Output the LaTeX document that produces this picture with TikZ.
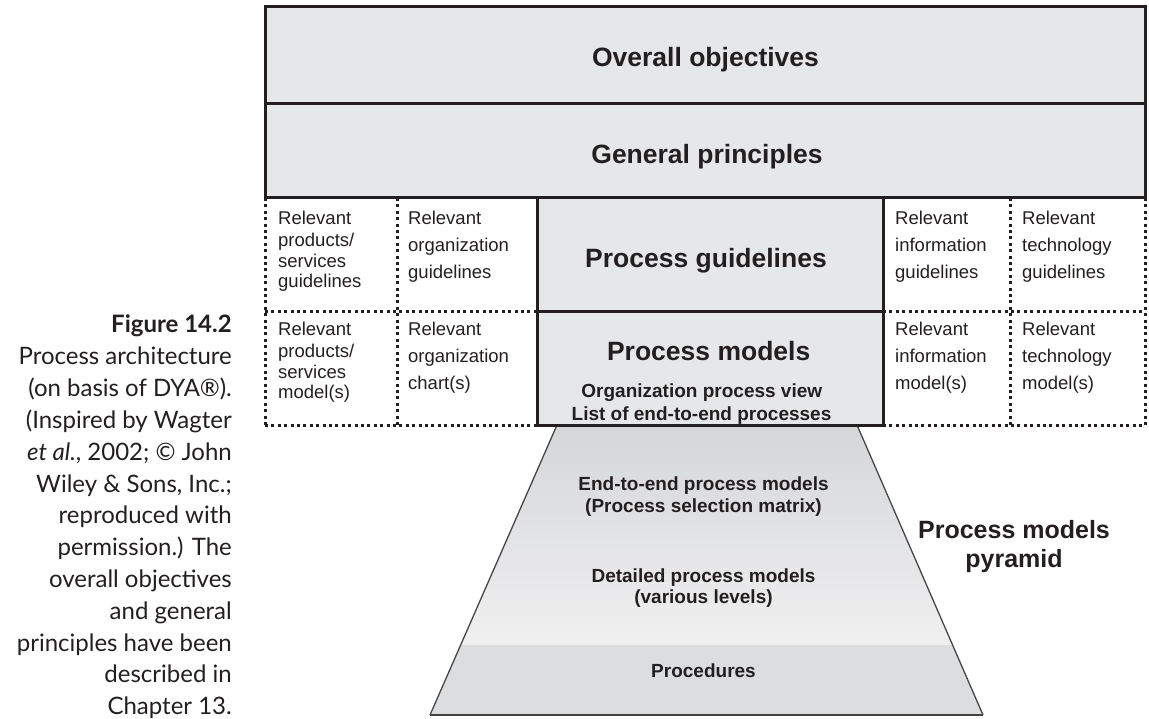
\documentclass[tikz,border=0pt]{standalone}
\usepackage{fontspec}
\setmainfont{Liberation Sans}
\newfontfamily\capfont{Lato}
\definecolor{boxgray}{RGB}{230,231,232}
\definecolor{ink}{RGB}{35,31,32}
\definecolor{pyrtop}{RGB}{213,214,216}
\definecolor{pyrmid}{RGB}{240,240,241}
\definecolor{pyrbase}{RGB}{220,221,223}
\definecolor{pyredge}{RGB}{70,70,70}
\tikzset{
  solidline/.style={draw=ink, line width=3pt},
  dotline/.style={draw=ink, line width=3pt, dash pattern=on 3pt off 3.4pt},
  toptitle/.style={font=\bfseries\fontsize{26.5}{30}\selectfont, text=ink, inner sep=0pt, anchor=base},
  midtitle/.style={font=\bfseries\fontsize{26.5}{30}\selectfont, text=ink, inner sep=0pt, anchor=base},
  subtitle/.style={font=\bfseries\fontsize{19}{23}\selectfont, text=ink, inner sep=0pt, anchor=base},
  celltext/.style={font=\fontsize{18.5}{27}\selectfont, text=ink, inner sep=0pt, anchor=north west, align=left},
  pyrtext/.style={font=\bfseries\fontsize{19}{22}\selectfont, text=ink, inner sep=0pt, anchor=base},
  pyrlabel/.style={font=\bfseries\fontsize{25}{29}\selectfont, text=ink, inner sep=0pt, anchor=base},
  captext/.style={font=\capfont\fontsize{24}{30}\selectfont, text=ink, inner sep=0pt, anchor=base east}
}
\begin{document}
\begin{tikzpicture}[x=1pt,y=-1pt]
\useasboundingbox (0,0) rectangle (1149,719);

% ---------- pyramid ----------
\coordinate (pTL) at (557,425);
\coordinate (pTR) at (857,425);
\coordinate (pBR) at (983,715);
\coordinate (pBL) at (430,715);
\begin{scope}
  \clip (pTL) -- (pTR) -- (pBR) -- (pBL) -- cycle;
  \shade[top color=pyrtop, bottom color=pyrmid] (420,425) rectangle (1000,645);
  \fill[pyrbase] (420,645) rectangle (1000,716);
\end{scope}
\draw[pyredge, line width=1.3pt] (pTL) -- (pBL);
\draw[pyredge, line width=1.3pt] (pTR) -- (pBR);
\draw[ink!85, line width=2pt] (pBL) -- (pBR);

% ---------- dotted cell grid ----------
\draw[dotline] (265,198) -- (265,425);
\draw[dotline] (397,198) -- (397,425);
\draw[dotline] (1010,198) -- (1010,425);
\draw[dotline] (1145,198) -- (1145,425);
\draw[dotline] (265,312) -- (537,312);
\draw[dotline] (883,312) -- (1145,312);
\draw[dotline] (265,425) -- (537,425);
\draw[dotline] (883,425) -- (1145,425);

% ---------- solid boxes ----------
\draw[solidline, fill=boxgray] (265,7) rectangle (1145,198);
\draw[solidline] (265,103.3) -- (1145,103.3);
\draw[solidline, fill=boxgray] (537,198) rectangle (883,425);
\draw[solidline] (537,312) -- (883,312);

% ---------- titles ----------
\node[toptitle] (overall) at (705.5,66.7) {Overall objectives};
\node[toptitle] (general) at (707,163.3) {General principles};
\node[midtitle] (pguide) at (706,267.3) {Process guidelines};
\node[midtitle] (pmodels) at (708.7,361) {Process models};
\node[subtitle] (orgview) at (701.8,397) {Organization process view};
\node[subtitle] (e2elist) at (701.5,420) {List of end-to-end processes};

% ---------- cells ----------
\node[celltext] (c11) at (278,210.7) {Relevant\\[-5pt]products/\\[-6pt]services\\[-7pt]guidelines};
\node[celltext] (c12) at (408,210.7) {Relevant\\organization\\guidelines};
\node[celltext] (c14) at (895,210.7) {Relevant\\information\\guidelines};
\node[celltext] (c15) at (1022,210.7) {Relevant\\technology\\guidelines};
\node[celltext] (c21) at (278,321.7) {Relevant\\[-5pt]products/\\[-6pt]services\\[-7pt]model(s)};
\node[celltext] (c22) at (408,321.7) {Relevant\\organization\\chart(s)};
\node[celltext] (c24) at (895,321.7) {Relevant\\information\\model(s)};
\node[celltext] (c25) at (1022,321.7) {Relevant\\technology\\model(s)};

% ---------- pyramid texts ----------
\node[pyrtext] (e2e1) at (703.5,490) {End-to-end process models};
\node[pyrtext] (e2e2) at (703.5,512) {(Process selection matrix)};
\node[pyrtext] (det1) at (703.5,582) {Detailed process models};
\node[pyrtext] (det2) at (703.5,603.5) {(various levels)};
\node[pyrtext] (proc) at (703.5,677) {Procedures};
\node[pyrlabel] (pml1) at (1014,538) {Process models};
\node[pyrlabel] (pml2) at (1014,567) {pyramid};

% ---------- caption ----------
\foreach \txt [count=\i from 0] in {
  {\bfseries Figure 14.2},
  {Process architecture},
  {(on basis of DYA®).},
  {(Inspired by Wagter},
  {{\itshape et al.}, 2002; © John},
  {Wiley \& Sons, Inc.;},
  {reproduced with},
  {permission.) The},
  {overall objectives},
  {and general},
  {principles have been},
  {described in},
  {Chapter 13.}}
  \node[captext] (cap\i) at (232,{333+31.8*\i}) {\txt};
\end{tikzpicture}
\end{document}
